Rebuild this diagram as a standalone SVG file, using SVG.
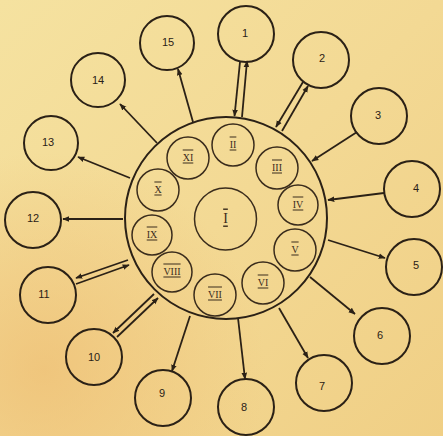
<svg xmlns="http://www.w3.org/2000/svg" width="443" height="436" viewBox="0 0 443 436">
<defs>
<linearGradient id="bg" x1="0" y1="0" x2="1" y2="1">
<stop offset="0" stop-color="#f5e2a0"/>
<stop offset="0.5" stop-color="#f3d994"/>
<stop offset="1" stop-color="#f0cf85"/>
</linearGradient>
<radialGradient id="warm" cx="0.1" cy="0.85" r="0.5">
<stop offset="0" stop-color="#eebd72" stop-opacity="0.7"/>
<stop offset="1" stop-color="#eebd72" stop-opacity="0"/>
</radialGradient>
<marker id="ah" viewBox="0 0 10 10" refX="9" refY="5" markerWidth="7" markerHeight="7" markerUnits="userSpaceOnUse" orient="auto">
<path d="M0,1 L10,5 L0,9 z" fill="#2b2116"/>
</marker>
</defs>
<style>
.node circle{fill:none;stroke:#2b2116;stroke-width:2}
.inner circle{fill:none;stroke:#3a2c1c;stroke-width:1.5}
.lbl{font-family:"Liberation Sans",sans-serif;font-size:11px;fill:#2b2116;text-anchor:middle;dominant-baseline:central}
.rn{font-family:"Liberation Serif",serif;font-size:10px;fill:#3a2c1c;text-anchor:middle;dominant-baseline:central;text-decoration:overline underline}
#connectors line{stroke:#2b2116;stroke-width:1.8;marker-end:url(#ah)}
#connectors line.plain{marker-end:none}
</style>
<rect width="443" height="436" fill="url(#bg)"/>
<rect width="443" height="436" fill="url(#warm)"/>

<g id="connectors">
<!-- 1 double -->
<line x1="240" y1="62" x2="234.5" y2="116"/>
<line x1="242" y1="117" x2="247" y2="61"/>
<!-- 2 double -->
<line x1="303" y1="82" x2="276" y2="127"/>
<line x1="282" y1="131" x2="308" y2="86"/>
<!-- 3 -->
<line x1="357" y1="132" x2="312" y2="161"/>
<!-- 4 -->
<line x1="384" y1="193" x2="328" y2="200"/>
<!-- 5 -->
<line x1="328" y1="240" x2="385" y2="258"/>
<!-- 6 -->
<line x1="310" y1="277" x2="355" y2="314"/>
<!-- 7 -->
<line x1="279" y1="308" x2="308" y2="358"/>
<!-- 8 -->
<line x1="238" y1="318" x2="245" y2="379"/>
<!-- 9 -->
<line x1="190" y1="316" x2="172" y2="371"/>
<!-- 10 double -->
<line x1="154" y1="294" x2="113" y2="333"/>
<line x1="117" y1="337" x2="158" y2="298"/>
<!-- 11 double -->
<line x1="128" y1="260" x2="76" y2="278"/>
<line x1="76" y1="284" x2="129" y2="265"/>
<!-- 12 -->
<line x1="123" y1="219" x2="63" y2="219"/>
<!-- 13 -->
<line x1="130" y1="178" x2="78" y2="157"/>
<!-- 14 -->
<line x1="157" y1="143" x2="120" y2="104"/>
<!-- 15 -->
<line x1="193" y1="122" x2="178" y2="69"/>
</g>

<g id="hub" class="node">
<circle cx="226" cy="218" r="101" stroke-width="2.4"/>
</g>
<g id="nI" class="inner"><circle cx="225.5" cy="219" r="31"/><text class="rn" x="225.5" y="218" style="font-size:14px">I</text></g>
<g id="nII" class="inner"><circle cx="233" cy="145" r="21"/><text class="rn" x="233" y="144">II</text></g>
<g id="nIII" class="inner"><circle cx="277" cy="168" r="21"/><text class="rn" x="277" y="167">III</text></g>
<g id="nIV" class="inner"><circle cx="298" cy="205" r="20"/><text class="rn" x="298" y="204">IV</text></g>
<g id="nV" class="inner"><circle cx="295" cy="250" r="21"/><text class="rn" x="295" y="249">V</text></g>
<g id="nVI" class="inner"><circle cx="263" cy="283" r="21"/><text class="rn" x="263" y="282">VI</text></g>
<g id="nVII" class="inner"><circle cx="215" cy="295" r="21"/><text class="rn" x="215" y="294">VII</text></g>
<g id="nVIII" class="inner"><circle cx="172" cy="272" r="20"/><text class="rn" x="172" y="271">VIII</text></g>
<g id="nIX" class="inner"><circle cx="152" cy="235" r="20"/><text class="rn" x="152" y="234">IX</text></g>
<g id="nX" class="inner"><circle cx="158" cy="190" r="21"/><text class="rn" x="158" y="189">X</text></g>
<g id="nXI" class="inner"><circle cx="188" cy="158" r="21"/><text class="rn" x="188" y="157">XI</text></g>

<g id="n1" class="node"><circle cx="246" cy="34" r="28"/><text class="lbl" x="245" y="33">1</text></g>
<g id="n2" class="node"><circle cx="321" cy="60" r="28"/><text class="lbl" x="322" y="58">2</text></g>
<g id="n3" class="node"><circle cx="379" cy="116" r="28"/><text class="lbl" x="378" y="115">3</text></g>
<g id="n4" class="node"><circle cx="412" cy="189" r="28"/><text class="lbl" x="416" y="188">4</text></g>
<g id="n5" class="node"><circle cx="414" cy="267" r="28"/><text class="lbl" x="416" y="265">5</text></g>
<g id="n6" class="node"><circle cx="382" cy="336" r="28"/><text class="lbl" x="380" y="335">6</text></g>
<g id="n7" class="node"><circle cx="324" cy="383" r="28"/><text class="lbl" x="322" y="386">7</text></g>
<g id="n8" class="node"><circle cx="246" cy="407" r="28"/><text class="lbl" x="244" y="407">8</text></g>
<g id="n9" class="node"><circle cx="163" cy="398" r="28"/><text class="lbl" x="162" y="393">9</text></g>
<g id="n10" class="node"><circle cx="94" cy="357" r="28"/><text class="lbl" x="94" y="357">10</text></g>
<g id="n11" class="node"><circle cx="48" cy="295" r="28"/><text class="lbl" x="44" y="294">11</text></g>
<g id="n12" class="node"><circle cx="33" cy="220" r="28"/><text class="lbl" x="33" y="218">12</text></g>
<g id="n13" class="node"><circle cx="51" cy="143" r="27"/><text class="lbl" x="48" y="142">13</text></g>
<g id="n14" class="node"><circle cx="98" cy="80" r="27"/><text class="lbl" x="98" y="80">14</text></g>
<g id="n15" class="node"><circle cx="167" cy="43" r="27"/><text class="lbl" x="168" y="42">15</text></g>
</svg>
